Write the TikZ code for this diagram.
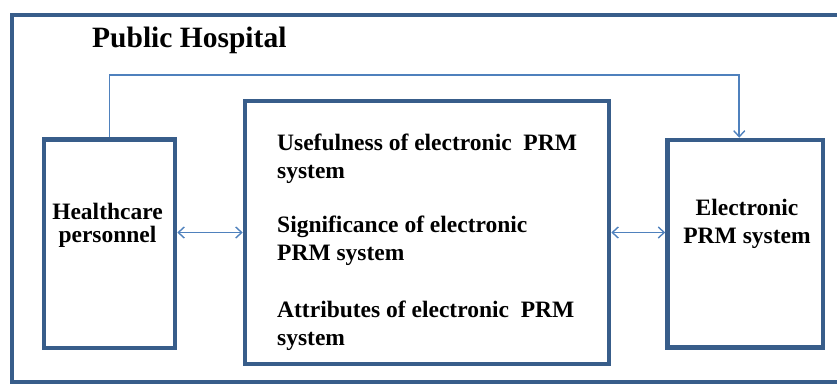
\documentclass[tikz,border=0pt]{standalone}
\usepackage{fontspec}
\setmainfont{Liberation Serif}
\usetikzlibrary{arrows.meta}
\definecolor{frameblue}{RGB}{56,93,138}
\definecolor{linkblue}{RGB}{79,129,189}
\begin{document}
\begin{tikzpicture}[x=1pt,y=-1pt,
  box/.style={draw=frameblue, line width=4.5pt, fill=white, inner sep=0pt},
  txt/.style={font=\fontsize{23.5}{28}\selectfont\bfseries, inner sep=0pt},
  link/.style={draw=linkblue, line width=1.6pt},
  barb/.tip={Straight Barb[length=6pt,width=11pt,line width=1.4pt]}]
\clip (0,0) rectangle (837,383);
% outer frame of the hospital
\draw[frameblue, line width=4pt] (12,14.5) rectangle (850,381.5);
\node[anchor=base west, inner sep=0pt, font=\fontsize{29.5}{32}\selectfont\bfseries] (title) at (92,47) {Public Hospital};
% the three boxes
\node[box, minimum width=131pt, minimum height=208.5pt] (hc) at (109.5,243.75) {};
\node[box, minimum width=364pt, minimum height=263pt] (mid) at (427,232.5) {};
\node[box, minimum width=155.5pt, minimum height=207.5pt] (eprm) at (745.25,243.75) {};
% texts inside the boxes (base = last line)
\node[txt, align=center, anchor=base, font=\fontsize{23.5}{23}\selectfont\bfseries] (hcText) at (107.5,242) {Healthcare\\personnel};
\node[txt, align=left, anchor=base west] (useful) at (277,178) {Usefulness of electronic\ \ PRM\\system};
\node[txt, align=left, anchor=base west] (signif) at (277,260) {Significance of electronic\\PRM system};
\node[txt, align=left, anchor=base west] (attrib) at (277,345) {Attributes of electronic\ \ PRM\\system};
\node[txt, align=center, anchor=base] (eprmText) at (747,243) {Electronic\\PRM system};
% connectors
\coordinate (top) at (0,75);
\coordinate (eTop) at ([xshift=-6pt]eprm.north);
\draw[link, -{barb}] (hc.north) |- (top -| eTop) -- (eTop);
\draw[link, {barb}-{barb}] (hc.east |- mid.west) -- (mid.west);
\draw[link, {barb}-{barb}] (mid.east) -- (eprm.west |- mid.east);
\end{tikzpicture}
\end{document}
